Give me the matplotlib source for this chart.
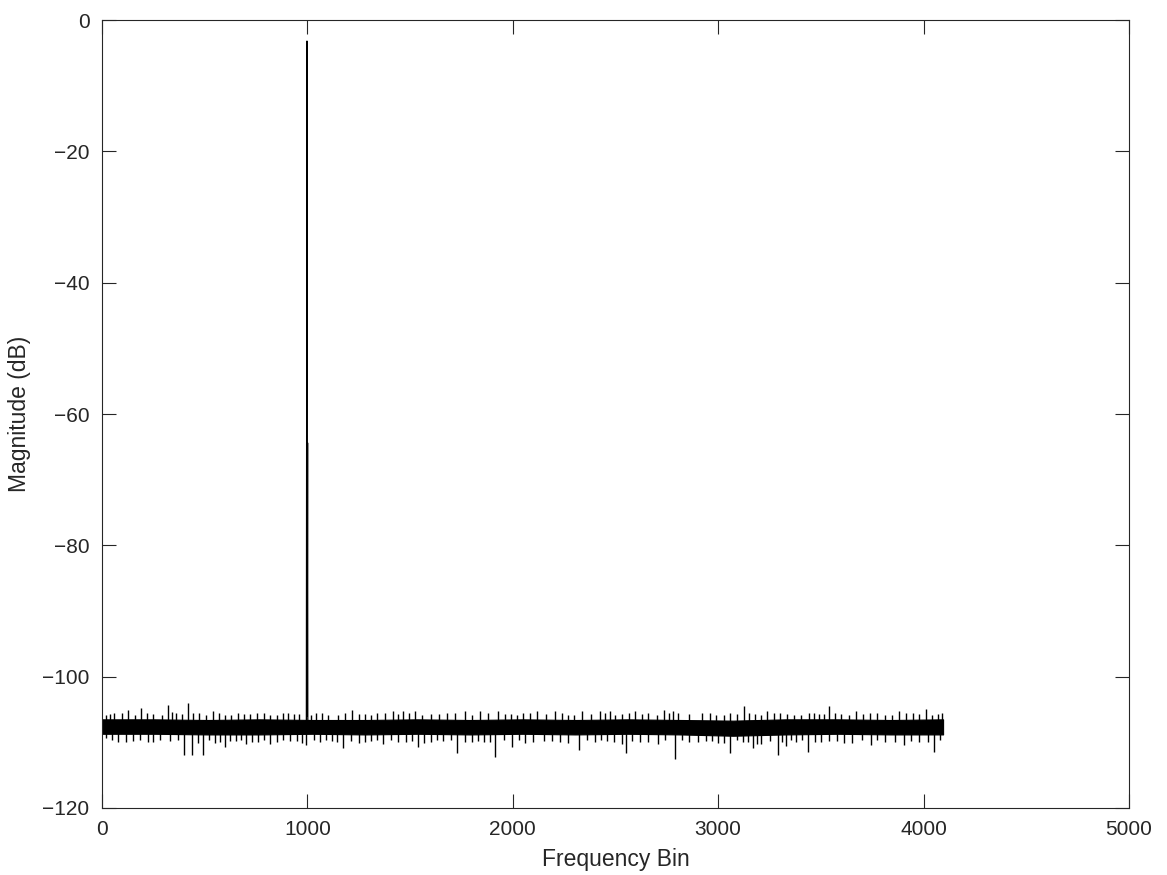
import matplotlib
matplotlib.use('Agg')
import matplotlib.pyplot as plt

# noise floor: core band edges every 256 bins
band_bins = [0, 256, 512, 768, 1024, 1280, 1536, 1792, 2048, 2304, 2560,
             2816, 3072, 3328, 3584, 3840, 4095]
band_upper = [-106.5, -106.5, -106.6, -106.5, -106.6, -106.6, -106.5, -106.6, -106.5,
              -106.6, -106.5, -106.6, -106.7, -106.5, -106.5, -106.6, -106.5]
band_lower = [-108.7, -108.7, -108.8, -108.8, -108.7, -108.8, -108.7, -108.8, -108.7,
              -108.8, -108.7, -108.8, -109.0, -108.8, -108.7, -108.8, -108.8]

# single bins poking well out of the noise band
up_bins = [20, 60, 125, 191, 250, 320, 360, 417, 470, 540, 600, 660, 720, 790, 850,
           905, 960, 1040, 1100, 1215, 1280, 1340, 1417, 1466, 1524, 1600, 1680, 1768,
           1841, 1929, 1990, 2050, 2119, 2207, 2270, 2339, 2427, 2475, 2530, 2597, 2660,
           2734, 2781, 2806, 2923, 2990, 3060, 3124, 3180, 3240, 3300, 3370, 3440, 3490,
           3538, 3600, 3670, 3740, 3810, 3880, 3950, 4011, 4070]
up_db = [-105.8, -105.6, -105.1, -104.8, -105.7, -104.3, -105.6, -104.0, -105.6, -105.2,
         -105.8, -105.5, -105.7, -105.6, -105.9, -105.5, -105.7, -105.6, -105.8, -105.1,
         -105.7, -105.6, -105.2, -105.3, -105.3, -105.7, -105.6, -105.2, -105.3, -105.3,
         -105.7, -105.6, -105.2, -105.3, -105.8, -105.3, -105.2, -105.3, -105.7, -105.2,
         -105.6, -105.1, -105.3, -105.5, -105.5, -105.8, -105.6, -104.5, -105.7, -105.2,
         -105.6, -105.8, -105.6, -105.7, -104.5, -105.7, -105.3, -105.6, -105.8, -105.3,
         -105.6, -105.0, -105.7]

down_bins = [20, 80, 150, 222, 280, 398, 437, 494, 550, 597, 650, 700, 760, 820, 880,
             948, 995, 1060, 1120, 1172, 1250, 1310, 1370, 1440, 1539, 1600, 1660, 1729,
             1800, 1860, 1914, 1997, 2060, 2150, 2231, 2324, 2400, 2460, 2534, 2549, 2620,
             2705, 2791, 2860, 2940, 3000, 3060, 3120, 3172, 3210, 3289, 3329, 3380, 3436,
             3500, 3580, 3650, 3744, 3810, 3905, 3980, 4051]
down_db = [-109.3, -109.9, -109.8, -110.0, -109.7, -111.9, -111.9, -111.9, -110.1, -110.7,
           -109.8, -110.2, -109.9, -110.3, -109.7, -109.8, -110.4, -110.0, -109.8, -110.9,
           -110.1, -109.8, -110.2, -109.9, -110.7, -110.0, -109.8, -111.7, -110.0, -109.9,
           -112.2, -110.7, -110.1, -109.8, -109.9, -111.1, -110.0, -109.8, -110.2, -111.7,
           -109.9, -110.2, -112.6, -110.0, -109.8, -110.1, -111.7, -110.0, -110.8, -110.3,
           -111.9, -110.5, -109.9, -111.4, -110.0, -109.8, -110.1, -110.4, -109.9, -110.4,
           -110.0, -111.4]

# smaller excursions that make the ragged edge of the band
small_up_bins = [40, 95, 160, 220, 290, 340, 390, 445, 505, 570, 630, 690, 755, 820,
                 880, 935, 1020, 1070, 1150, 1185, 1250, 1310, 1380, 1440, 1495, 1560,
                 1640, 1720, 1800, 1880, 1960, 2020, 2085, 2160, 2240, 2300, 2380, 2450,
                 2500, 2565, 2630, 2700, 2760, 2860, 2960, 3030, 3090, 3150, 3210, 3270,
                 3335, 3405, 3465, 3515, 3570, 3635, 3705, 3775, 3845, 3915, 3980, 4040,
                 4090]
small_up_db = [-105.7, -105.5, -105.9, -105.6, -105.8, -105.4, -105.7, -105.6, -105.9,
               -105.5, -105.8, -105.7, -105.6, -105.9, -105.5, -105.7, -105.8, -105.6,
               -105.9, -105.5, -105.7, -105.8, -105.6, -105.7, -105.5, -105.9, -105.7,
               -105.6, -105.8, -105.5, -105.7, -105.9, -105.6, -105.7, -105.5, -105.8,
               -105.7, -105.6, -105.9, -105.5, -105.7, -105.8, -105.6, -105.7, -105.5,
               -105.9, -105.7, -105.6, -105.8, -105.5, -105.7, -105.9, -105.6, -105.7,
               -105.5, -105.8, -105.7, -105.6, -105.9, -105.5, -105.7, -105.8, -105.6]

small_down_bins = [50, 115, 185, 250, 330, 370, 465, 520, 575, 625, 675, 730, 790, 850,
                   915, 975, 1030, 1090, 1145, 1210, 1280, 1340, 1405, 1480, 1510, 1570,
                   1630, 1700, 1765, 1830, 1890, 1955, 2030, 2100, 2190, 2270, 2360, 2430,
                   2495, 2580, 2660, 2740, 2825, 2900, 2970, 3030, 3090, 3145, 3190, 3250,
                   3310, 3355, 3410, 3470, 3540, 3615, 3700, 3775, 3860, 3940, 4020, 4080]
small_down_db = [-109.7, -109.9, -109.6, -110.0, -109.8, -109.7, -110.1, -109.6, -109.9,
                 -109.8, -109.7, -110.0, -109.6, -109.9, -109.8, -110.1, -109.7, -109.6,
                 -109.9, -109.8, -110.0, -109.7, -109.6, -109.9, -109.8, -110.1, -109.7,
                 -109.6, -109.9, -109.8, -110.0, -109.7, -109.6, -109.9, -109.8, -110.1,
                 -109.7, -109.6, -109.9, -109.8, -110.0, -109.7, -109.6, -109.9, -109.8,
                 -110.1, -109.7, -109.9, -110.2, -109.8, -110.0, -109.7, -109.6, -109.9,
                 -109.8, -110.1, -109.7, -109.6, -109.9, -109.8, -110.0, -109.7]

# tone at bin ~1000 and its neighbour
peak_bins = [995, 998, 999, 1001, 1002, 1004]
peak_db = [-107.6, -3.2, -106.0, -64.4, -106.5, -107.8]

NOISE_MID = -107.6
FONT = ['Liberation Sans', 'DejaVu Sans']
INK = '#262626'

fig = plt.figure(figsize=(11.67, 8.75), dpi=100)
ax = fig.add_axes([0.0874, 0.0766, 0.88, 0.9005])

ax.fill_between(band_bins, band_lower, band_upper, color='black', linewidth=0.8)
ax.vlines(up_bins + small_up_bins, NOISE_MID, up_db + small_up_db,
          color='black', linewidth=1.0)
ax.vlines(down_bins + small_down_bins, NOISE_MID, down_db + small_down_db,
          color='black', linewidth=1.0)
ax.plot(peak_bins, peak_db, color='black', linewidth=0.9)

ax.set_xlim(0, 5000)
ax.set_ylim(-120, 0)
ax.set_xticks(range(0, 5001, 1000))
ax.set_yticks(range(-120, 1, 20))

for lab in ax.get_xticklabels() + ax.get_yticklabels():
    lab.set_family(FONT)
ax.tick_params(direction='in', length=10, width=0.8, top=True, right=True,
               labelsize=15, colors=INK, pad=9)
for sp in ax.spines.values():
    sp.set_linewidth(0.8)
    sp.set_color(INK)

ax.set_xlabel("Frequency Bin", fontsize=16.5, color=INK, family=FONT, labelpad=6)
ax.set_ylabel("Magnitude (dB)", fontsize=16.5, color=INK, family=FONT, labelpad=8)

fig.savefig('out.png', dpi=100)
